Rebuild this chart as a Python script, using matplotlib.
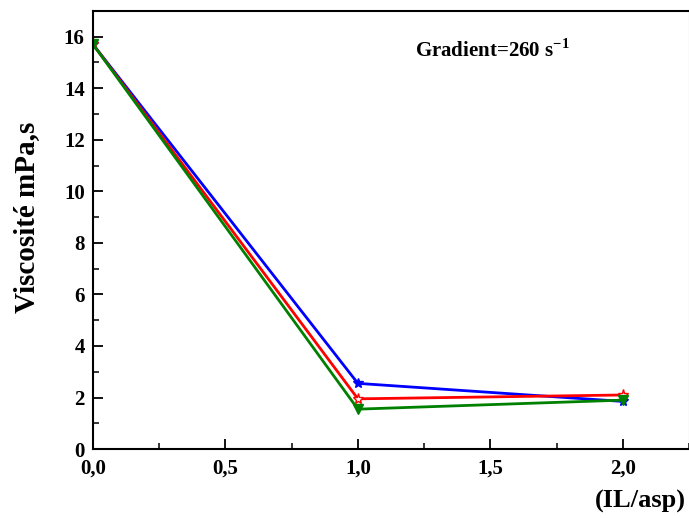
import matplotlib
matplotlib.use("Agg")
from matplotlib import pyplot as plt
from matplotlib.ticker import MultipleLocator

plt.rcParams['font.family'] = ['Liberation Serif', 'DejaVu Serif']
plt.rcParams['font.weight'] = 'bold'
plt.rcParams['mathtext.fontset'] = 'custom'
plt.rcParams['mathtext.rm'] = 'Liberation Serif:bold'
plt.rcParams['mathtext.bf'] = 'Liberation Serif:bold'

ratio = [0.0, 1.0, 2.0]
blue_vals = [15.7, 2.55, 1.85]
red_vals = [15.7, 1.95, 2.1]
green_vals = [15.7, 1.55, 1.9]

fig = plt.figure(figsize=(6.89, 5.18), dpi=100)
ax = fig.add_axes([0.135, 0.133, 0.865, 0.846])

ax.plot(ratio, blue_vals, color="blue", lw=2, marker="*", ms=7, mfc="blue", mec="blue")
ax.plot(ratio, red_vals, color="red", lw=2, marker="*", ms=8, mfc="white", mec="red")
ax.plot(ratio, green_vals, color="green", lw=2, marker="v", ms=7, mfc="green", mec="green")

ax.set_xlim(0, 2.25)
ax.set_ylim(0, 17)
ax.xaxis.set_major_locator(MultipleLocator(0.5))
ax.xaxis.set_minor_locator(MultipleLocator(0.25))
ax.yaxis.set_major_locator(MultipleLocator(2))
ax.yaxis.set_minor_locator(MultipleLocator(1))
ax.set_xticks([0, 0.5, 1.0, 1.5, 2.0])
ax.set_xticklabels(["0,0", "0,5", "1,0", "1,5", "2,0"])
ax.tick_params(which="major", direction="in", length=7, width=1.3, labelsize=15, pad=7)
ax.tick_params(which="minor", direction="in", length=4, width=1.1)
ax.tick_params(axis="y", pad=6)
for lab in ax.get_xticklabels() + ax.get_yticklabels():
    lab.set_fontweight("bold")

for side in ["left", "bottom", "top"]:
    ax.spines[side].set_linewidth(1.5)
ax.spines["right"].set_linewidth(0.8)
ax.spines["right"].set_color("#aaaaaa")

fig.text(0.038, 0.58, "Viscosité mPa,s", fontsize=21, fontweight="bold",
         rotation=90, ha="center", va="center")
fig.text(0.995, 0.031, "(IL/asp)", fontsize=19, fontweight="bold", ha="right", va="center")
ax.text(1.215, 15.2, "Gradient=260 s$^{-1}$", fontsize=15, fontweight="bold")

plt.savefig("out.png", dpi=100)
plt.close()
